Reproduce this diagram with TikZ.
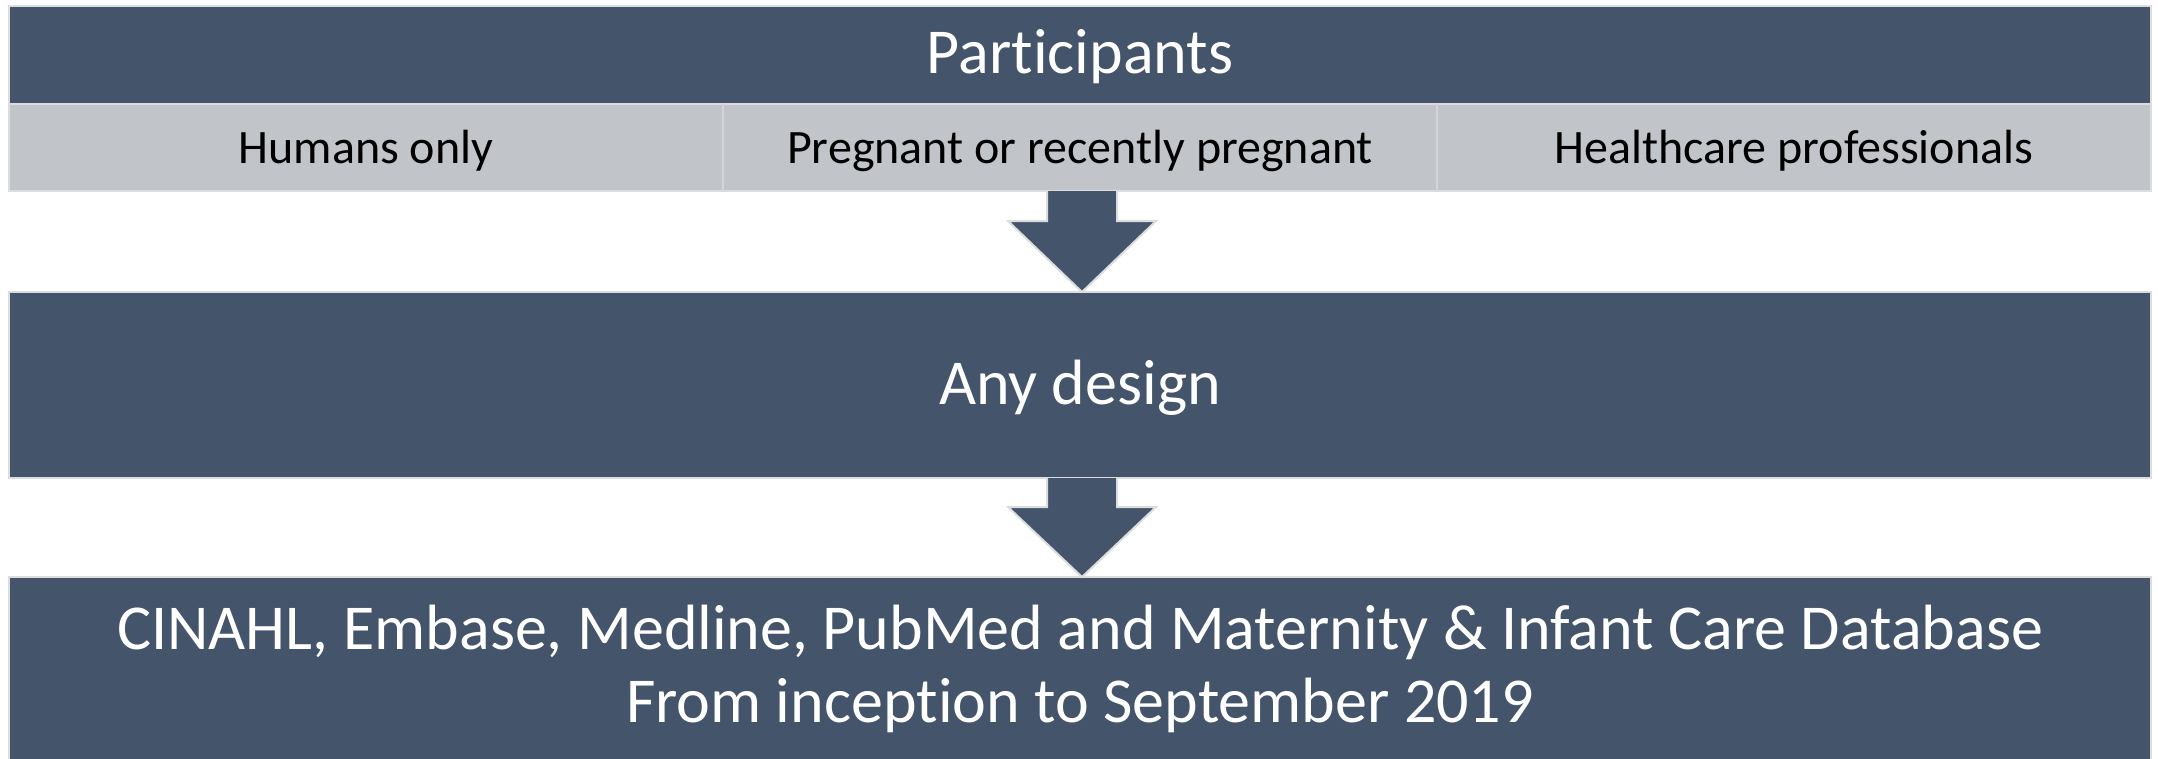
\documentclass[tikz,border=0pt]{standalone}
\usepackage{fontspec}
\setmainfont{Carlito}[Ligatures=NoCommon]
\definecolor{slate}{HTML}{44546A}
\definecolor{band}{HTML}{C1C4C9}
\definecolor{rim}{HTML}{DCDDDF}
\definecolor{sep}{HTML}{D3D5D8}
\tikzset{
  darkbox/.style={fill=slate, draw=rim, line width=2pt},
  flowarrow/.style={fill=slate, draw=rim, line width=2pt, line join=miter},
  bigtext/.style={text=white, font=\fontsize{64}{73}\selectfont, align=center},
  celltext/.style={text=black, font=\fontsize{48}{57}\selectfont},
}
\begin{document}
\begin{tikzpicture}[x=1pt, y=-1pt]
\useasboundingbox (0,0) rectangle (2158,758);
\fill[white] (0,0) rectangle (2158,758);

% top block: heading band and three criteria cells
\draw[darkbox] (9,6) rectangle (2151,104);
\node[bigtext] (part) at (1080,57) {Participants};
\draw[fill=band, draw=rim, line width=2pt] (9,104) rectangle (2151,191);
\draw[sep, line width=2pt] (723,104) -- (723,191);
\draw[sep, line width=2pt] (1437,104) -- (1437,191);
\node[celltext] (humans) at (366,151) {Humans only};
\node[celltext] (preg) at (1080,151) {Pregnant or recently pregnant};
\node[celltext] (hcp) at (1794,151) {Healthcare professionals};
\coordinate (topbot) at (1082,191);

% middle block
\draw[darkbox] (9,292) rectangle (2151,478);
\node[bigtext] (design) at (1080,388) {Any design};
\coordinate (midtop) at (1082,292);
\coordinate (midbot) at (1082,478);

% bottom block, running off the lower edge
\draw[darkbox] (9,577) rectangle (2151,770);
\node[bigtext] (dbs) at (1080,669) {CINAHL, Embase, Medline, PubMed and Maternity \& Infant Care Database\\From inception to September 2019};
\coordinate (bottop) at (1082,577);

% block arrows between the blocks
\draw[flowarrow] ([xshift=-35pt]topbot) -- ([xshift=-35pt,yshift=-30pt]topbot)
  -- ([xshift=-74pt,yshift=-30pt]topbot) -- (midtop)
  -- ([xshift=74pt,yshift=-30pt]topbot) -- ([xshift=35pt,yshift=-30pt]topbot)
  -- ([xshift=35pt]topbot);
\draw[flowarrow] ([xshift=-35pt]midbot) -- ([xshift=-35pt,yshift=-29pt]midbot)
  -- ([xshift=-74pt,yshift=-29pt]midbot) -- (bottop)
  -- ([xshift=74pt,yshift=-29pt]midbot) -- ([xshift=35pt,yshift=-29pt]midbot)
  -- ([xshift=35pt]midbot);
\end{tikzpicture}
\end{document}
